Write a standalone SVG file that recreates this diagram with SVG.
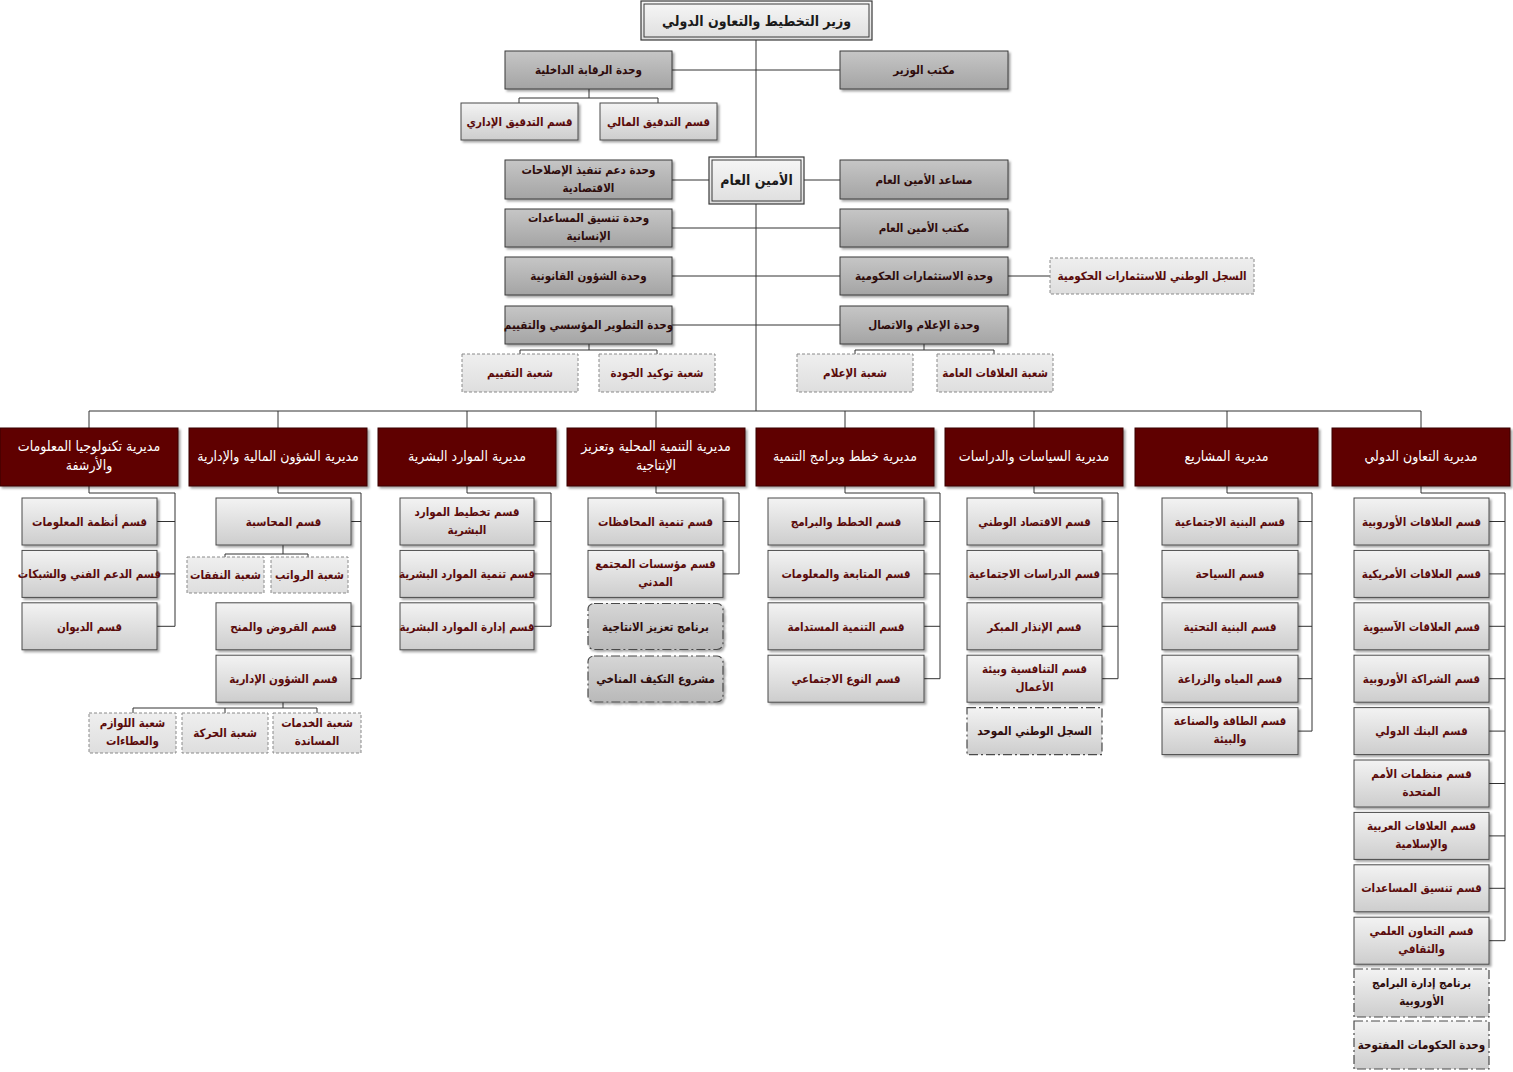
<svg xmlns="http://www.w3.org/2000/svg" width="1513" height="1072" viewBox="0 0 1513 1072">
<defs>
<linearGradient id="gDept" x1="0" y1="0" x2="0" y2="1"><stop offset="0" stop-color="#f3f3f3"/><stop offset="1" stop-color="#cdcdcd"/></linearGradient>
<linearGradient id="gUnit" x1="0" y1="0" x2="0" y2="1"><stop offset="0" stop-color="#c6c6c6"/><stop offset="1" stop-color="#a4a4a4"/></linearGradient>
<linearGradient id="gTop" x1="0" y1="0" x2="0" y2="1"><stop offset="0" stop-color="#f7f7f7"/><stop offset="1" stop-color="#dedede"/></linearGradient>
<linearGradient id="gSub" x1="0" y1="0" x2="0" y2="1"><stop offset="0" stop-color="#efefef"/><stop offset="1" stop-color="#dedede"/></linearGradient>
<linearGradient id="gProg" x1="0" y1="0" x2="0" y2="1"><stop offset="0" stop-color="#d6d6d6"/><stop offset="1" stop-color="#b9b9b9"/></linearGradient>
<filter id="sh" x="-5%" y="-5%" width="115%" height="125%"><feDropShadow dx="2" dy="2" stdDeviation="1.2" flood-color="#000" flood-opacity="0.35"/></filter>
</defs>
<style>
text{font-family:"DejaVu Sans Condensed","DejaVu Sans",sans-serif;text-anchor:middle;font-weight:bold}
.dept{fill:url(#gDept);stroke:#4a4a4a;stroke-width:1;filter:url(#sh)}
.unit{fill:url(#gUnit);stroke:#3a3a3a;stroke-width:1;filter:url(#sh)}
.top{fill:url(#gTop);stroke:#3a3a3a;stroke-width:1.2}
.inner{fill:none;stroke:#3a3a3a;stroke-width:1}
.dir{fill:#5e0202;stroke:#3a0000;stroke-width:1;filter:url(#sh)}
.sub{fill:url(#gSub);stroke:#8a8a8a;stroke-width:1;stroke-dasharray:3 2}
.prog{fill:url(#gProg);stroke:#4a4a4a;stroke-width:1.2;stroke-dasharray:9 3 2 3;filter:url(#sh)}
.prog2{fill:url(#gDept);stroke:#4a4a4a;stroke-width:1.2;stroke-dasharray:9 3 2 3}
.t{fill:#5a0b0b;font-size:11.5px}
.tu{fill:#2e0c0c;font-size:11.5px}
.tw{fill:#ffffff;font-size:14px;font-weight:normal}
.tt{fill:#1a1a1a;font-size:14px}
#conn path{fill:none;stroke:#333;stroke-width:1}
</style>

<g id="conn">
<path d="M756,40V411"/>
<path d="M672,70H840"/>
<path d="M589,89V98M519,103V98H658V103"/>
<path d="M672,180H709M804,180H840"/>
<path d="M672,228H840"/>
<path d="M672,276H840M1008,276H1050"/>
<path d="M672,325H840"/>
<path d="M589,344V350M520,354V350H657V354"/>
<path d="M924,344V350M855,354V350H994V354"/>
<path d="M89,411H1421"/>
<path d="M89,411V428M278,411V428M467,411V428M656,411V428M845,411V428M1034,411V428M1227,411V428M1421,411V428"/>
<path d="M89,486V493H175V626.3M157,521.5H175M157,573.9H175M157,626.3H175"/>
<path d="M278,486V493H361V678.7M351,521.5H361M351,626.3H361M351,678.7H361"/>
<path d="M283,545V554M225,557V554H308V557"/>
<path d="M283,702V708M133,713V708H317V713M225,708V713"/>
<path d="M467,486V493H551V626.3M534,521.5H551M534,573.9H551M534,626.3H551"/>
<path d="M656,486V493H739V573.9M723,521.5H739M723,573.9H739"/>
<path d="M845,486V493H940V678.7M924,521.5H940M924,573.9H940M924,626.3H940M924,678.7H940"/>
<path d="M1034,486V493H1118V678.7M1102,521.5H1118M1102,573.9H1118M1102,626.3H1118M1102,678.7H1118"/>
<path d="M1227,486V493H1312V731.1M1298,521.5H1312M1298,573.9H1312M1298,626.3H1312M1298,678.7H1312M1298,731.1H1312"/>
<path d="M1421,486V493H1505V940.7M1489,521.5H1505M1489,573.9H1505M1489,626.3H1505M1489,678.7H1505M1489,731.1H1505M1489,783.5H1505M1489,835.9H1505M1489,888.3H1505M1489,940.7H1505"/>
</g>

<g id="minister"><rect class="top" x="641" y="1" width="231" height="39"/><rect class="inner" x="644" y="4" width="225" height="33"/><text class="tt" x="756.5" y="25.5">وزير التخطيط والتعاون الدولي</text></g>
<g id="internal-audit"><rect class="unit" x="505" y="51" width="167" height="38"/><text class="tu" x="588.5" y="74">وحدة الرقابة الداخلية</text></g>
<g id="minister-office"><rect class="unit" x="840" y="51" width="168" height="38"/><text class="tu" x="924" y="74">مكتب الوزير</text></g>
<g id="admin-audit"><rect class="dept" x="461" y="103" width="117" height="37"/><text class="t" x="519.5" y="126">قسم التدقيق الإداري</text></g>
<g id="fin-audit"><rect class="dept" x="600" y="103" width="117" height="37"/><text class="t" x="658.5" y="126">قسم التدقيق المالي</text></g>
<g id="secgen"><rect class="top" x="709" y="157" width="95" height="47"/><rect class="inner" x="712" y="160" width="89" height="41"/><text class="tt" x="756.5" y="185">الأمين العام</text></g>
<g id="reform-unit"><rect class="unit" x="505" y="160" width="167" height="39"/><text class="tu" x="588.5"><tspan x="588.5" y="174">وحدة دعم تنفيذ الإصلاحات</tspan><tspan x="588.5" y="192">الاقتصادية</tspan></text></g>
<g id="asst-secgen"><rect class="unit" x="840" y="160" width="168" height="39"/><text class="tu" x="924" y="184">مساعد الأمين العام</text></g>
<g id="humanitarian-unit"><rect class="unit" x="505" y="209" width="167" height="38"/><text class="tu" x="588.5"><tspan x="588.5" y="222">وحدة تنسيق المساعدات</tspan><tspan x="588.5" y="240">الإنسانية</tspan></text></g>
<g id="secgen-office"><rect class="unit" x="840" y="209" width="168" height="38"/><text class="tu" x="924" y="232">مكتب الأمين العام</text></g>
<g id="legal-unit"><rect class="unit" x="505" y="257" width="167" height="38"/><text class="tu" x="588.5" y="280">وحدة الشؤون القانونية</text></g>
<g id="invest-unit"><rect class="unit" x="840" y="257" width="168" height="38"/><text class="tu" x="924" y="280">وحدة الاستثمارات الحكومية</text></g>
<g id="invest-registry"><rect class="sub" x="1050" y="258" width="204" height="36"/><text class="t" x="1152" y="280">السجل الوطني للاستثمارات الحكومية</text></g>
<g id="devel-unit"><rect class="unit" x="505" y="306" width="167" height="38"/><text class="tu" x="588.5" y="329">وحدة التطوير المؤسسي والتقييم</text></g>
<g id="media-unit"><rect class="unit" x="840" y="306" width="168" height="38"/><text class="tu" x="924" y="329">وحدة الإعلام والاتصال</text></g>
<g id="eval-sec"><rect class="sub" x="462" y="354" width="116" height="38"/><text class="t" x="520" y="377">شعبة التقييم</text></g>
<g id="quality-sec"><rect class="sub" x="599" y="354" width="116" height="38"/><text class="t" x="657" y="377">شعبة توكيد الجودة</text></g>
<g id="media-sec"><rect class="sub" x="797" y="354" width="116" height="38"/><text class="t" x="855" y="377">شعبة الإعلام</text></g>
<g id="pr-sec"><rect class="sub" x="937" y="354" width="116" height="38"/><text class="t" x="995" y="377">شعبة العلاقات العامة</text></g>

<g id="dir-it"><rect class="dir" x="0" y="428" width="178" height="58"/><text class="tw" x="89"><tspan x="89" y="451">مديرية تكنولوجيا المعلومات</tspan><tspan x="89" y="470">والأرشفة</tspan></text></g>
<g id="dir-finance"><rect class="dir" x="189" y="428" width="178" height="58"/><text class="tw" x="278" y="461">مديرية الشؤون المالية والإدارية</text></g>
<g id="dir-hr"><rect class="dir" x="378" y="428" width="178" height="58"/><text class="tw" x="467" y="461">مديرية الموارد البشرية</text></g>
<g id="dir-local"><rect class="dir" x="567" y="428" width="178" height="58"/><text class="tw" x="656"><tspan x="656" y="451">مديرية التنمية المحلية وتعزيز</tspan><tspan x="656" y="470">الإنتاجية</tspan></text></g>
<g id="dir-plans"><rect class="dir" x="756" y="428" width="178" height="58"/><text class="tw" x="845" y="461">مديرية خطط وبرامج التنمية</text></g>
<g id="dir-policy"><rect class="dir" x="945" y="428" width="178" height="58"/><text class="tw" x="1034" y="461">مديرية السياسات والدراسات</text></g>
<g id="dir-projects"><rect class="dir" x="1135" y="428" width="183" height="58"/><text class="tw" x="1226.5" y="461">مديرية المشاريع</text></g>
<g id="dir-intl"><rect class="dir" x="1332" y="428" width="178" height="58"/><text class="tw" x="1421" y="461">مديرية التعاون الدولي</text></g>

<g id="it-1"><rect class="dept" x="22" y="498" width="135" height="47"/><text class="t" x="89.5" y="525.5">قسم أنظمة المعلومات</text></g>
<g id="it-2"><rect class="dept" x="22" y="550.4" width="135" height="47"/><text class="t" x="89.5" y="578">قسم الدعم الفني والشبكات</text></g>
<g id="it-3"><rect class="dept" x="22" y="602.8" width="135" height="47"/><text class="t" x="89.5" y="630.5">قسم الديوان</text></g>

<g id="fin-1"><rect class="dept" x="216" y="498" width="135" height="47"/><text class="t" x="283.5" y="525.5">قسم المحاسبة</text></g>
<g id="fin-1a"><rect class="sub" x="187" y="557" width="77" height="36"/><text class="t" x="225.5" y="579">شعبة النفقات</text></g>
<g id="fin-1b"><rect class="sub" x="271" y="557" width="77" height="36"/><text class="t" x="309.5" y="579">شعبة الرواتب</text></g>
<g id="fin-2"><rect class="dept" x="216" y="602.8" width="135" height="47"/><text class="t" x="283.5" y="630.5">قسم القروض والمنح</text></g>
<g id="fin-3"><rect class="dept" x="216" y="655.2" width="135" height="47"/><text class="t" x="283.5" y="683">قسم الشؤون الإدارية</text></g>
<g id="fin-3a"><rect class="sub" x="89" y="713" width="87" height="40"/><text class="t" x="132.5"><tspan x="132.5" y="727">شعبة اللوازم</tspan><tspan x="132.5" y="745">والعطاءات</tspan></text></g>
<g id="fin-3b"><rect class="sub" x="182" y="713" width="86" height="40"/><text class="t" x="225" y="737">شعبة الحركة</text></g>
<g id="fin-3c"><rect class="sub" x="273" y="713" width="88" height="40"/><text class="t" x="317"><tspan x="317" y="727">شعبة الخدمات</tspan><tspan x="317" y="745">المساندة</tspan></text></g>

<g id="hr-1"><rect class="dept" x="400" y="498" width="134" height="47"/><text class="t" x="467"><tspan x="467" y="516">قسم تخطيط الموارد</tspan><tspan x="467" y="534">البشرية</tspan></text></g>
<g id="hr-2"><rect class="dept" x="400" y="550.4" width="134" height="47"/><text class="t" x="467" y="578">قسم تنمية الموارد البشرية</text></g>
<g id="hr-3"><rect class="dept" x="400" y="602.8" width="134" height="47"/><text class="t" x="467" y="630.5">قسم إدارة الموارد البشرية</text></g>

<g id="local-1"><rect class="dept" x="588" y="498" width="135" height="47"/><text class="t" x="655.5" y="525.5">قسم تنمية المحافظات</text></g>
<g id="local-2"><rect class="dept" x="588" y="550.4" width="135" height="47"/><text class="t" x="655.5"><tspan x="655.5" y="568">قسم مؤسسات المجتمع</tspan><tspan x="655.5" y="586">المدني</tspan></text></g>
<g id="local-3"><rect class="prog" x="588" y="603.5" width="135" height="46" rx="6"/><text class="tu" x="655.5" y="630.5">برنامج تعزيز الانتاجية</text></g>
<g id="local-4"><rect class="prog" x="588" y="656" width="135" height="46" rx="6"/><text class="tu" x="655.5" y="683">مشروع التكيف المناخي</text></g>

<g id="plans-1"><rect class="dept" x="768" y="498" width="156" height="47"/><text class="t" x="846" y="525.5">قسم الخطط والبرامج</text></g>
<g id="plans-2"><rect class="dept" x="768" y="550.4" width="156" height="47"/><text class="t" x="846" y="578">قسم المتابعة والمعلومات</text></g>
<g id="plans-3"><rect class="dept" x="768" y="602.8" width="156" height="47"/><text class="t" x="846" y="630.5">قسم التنمية المستدامة</text></g>
<g id="plans-4"><rect class="dept" x="768" y="655.2" width="156" height="47"/><text class="t" x="846" y="683">قسم النوع الاجتماعي</text></g>

<g id="policy-1"><rect class="dept" x="967" y="498" width="135" height="47"/><text class="t" x="1034.5" y="525.5">قسم الاقتصاد الوطني</text></g>
<g id="policy-2"><rect class="dept" x="967" y="550.4" width="135" height="47"/><text class="t" x="1034.5" y="578">قسم الدراسات الاجتماعية</text></g>
<g id="policy-3"><rect class="dept" x="967" y="602.8" width="135" height="47"/><text class="t" x="1034.5" y="630.5">قسم الإنذار المبكر</text></g>
<g id="policy-4"><rect class="dept" x="967" y="655.2" width="135" height="47"/><text class="t" x="1034.5"><tspan x="1034.5" y="673">قسم التنافسية وبيئة</tspan><tspan x="1034.5" y="691">الأعمال</tspan></text></g>
<g id="policy-5"><rect class="prog2" x="967" y="707.6" width="135" height="47"/><text class="tu" x="1034.5" y="735">السجل الوطني الموحد</text></g>

<g id="proj-1"><rect class="dept" x="1162" y="498" width="136" height="47"/><text class="t" x="1230" y="525.5">قسم البنية الاجتماعية</text></g>
<g id="proj-2"><rect class="dept" x="1162" y="550.4" width="136" height="47"/><text class="t" x="1230" y="578">قسم السياحة</text></g>
<g id="proj-3"><rect class="dept" x="1162" y="602.8" width="136" height="47"/><text class="t" x="1230" y="630.5">قسم البنية التحتية</text></g>
<g id="proj-4"><rect class="dept" x="1162" y="655.2" width="136" height="47"/><text class="t" x="1230" y="683">قسم المياه والزراعة</text></g>
<g id="proj-5"><rect class="dept" x="1162" y="707.6" width="136" height="47"/><text class="t" x="1230"><tspan x="1230" y="725">قسم الطاقة والصناعة</tspan><tspan x="1230" y="743">والبيئة</tspan></text></g>

<g id="intl-1"><rect class="dept" x="1354" y="498" width="135" height="47"/><text class="t" x="1421.5" y="525.5">قسم العلاقات الأوروبية</text></g>
<g id="intl-2"><rect class="dept" x="1354" y="550.4" width="135" height="47"/><text class="t" x="1421.5" y="578">قسم العلاقات الأمريكية</text></g>
<g id="intl-3"><rect class="dept" x="1354" y="602.8" width="135" height="47"/><text class="t" x="1421.5" y="630.5">قسم العلاقات الآسيوية</text></g>
<g id="intl-4"><rect class="dept" x="1354" y="655.2" width="135" height="47"/><text class="t" x="1421.5" y="683">قسم الشراكة الأوروبية</text></g>
<g id="intl-5"><rect class="dept" x="1354" y="707.6" width="135" height="47"/><text class="t" x="1421.5" y="735">قسم البنك الدولي</text></g>
<g id="intl-6"><rect class="dept" x="1354" y="760" width="135" height="47"/><text class="t" x="1421.5"><tspan x="1421.5" y="778">قسم منظمات الأمم</tspan><tspan x="1421.5" y="796">المتحدة</tspan></text></g>
<g id="intl-7"><rect class="dept" x="1354" y="812.4" width="135" height="47"/><text class="t" x="1421.5"><tspan x="1421.5" y="830">قسم العلاقات العربية</tspan><tspan x="1421.5" y="848">والإسلامية</tspan></text></g>
<g id="intl-8"><rect class="dept" x="1354" y="864.8" width="135" height="47"/><text class="t" x="1421.5" y="892">قسم تنسيق المساعدات</text></g>
<g id="intl-9"><rect class="dept" x="1354" y="917.2" width="135" height="47"/><text class="t" x="1421.5"><tspan x="1421.5" y="935">قسم التعاون العلمي</tspan><tspan x="1421.5" y="953">والثقافي</tspan></text></g>
<g id="intl-10"><rect class="prog2" x="1354" y="969" width="135" height="48"/><text class="tu" x="1421.5"><tspan x="1421.5" y="987">برنامج إدارة البرامج</tspan><tspan x="1421.5" y="1005">الأوروبية</tspan></text></g>
<g id="intl-11"><rect class="prog2" x="1354" y="1021" width="135" height="48"/><text class="tu" x="1421.5" y="1049">وحدة الحكومات المفتوحة</text></g>
</svg>
